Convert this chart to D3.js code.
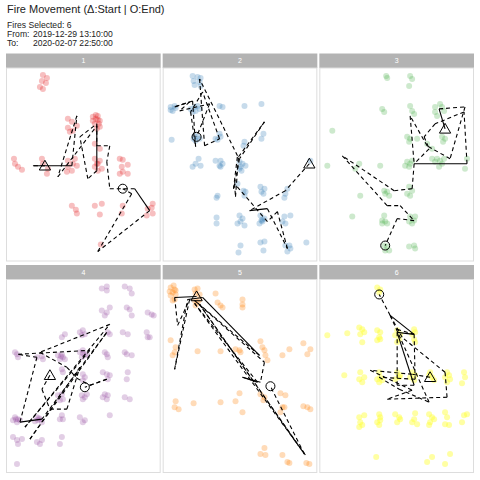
<!DOCTYPE html>
<html><head><meta charset="utf-8">
<script src="https://cdn.jsdelivr.net/npm/d3@7"></script>
<style>body{margin:0;background:#fff;} svg{display:block;font-family:"Liberation Sans",Arial,sans-serif;}</style>
</head><body>
<svg id="c" width="480" height="480"></svg>
<script>
const fireIds = ["1","2","3","4","5","6"];
const fireColors = ["#e41a1c","#377eb8","#4daf4a","#984ea3","#ff7f00","#ffff33"];
const titleText = "Fire Movement (\u0394:Start | O:End)";
const infoLabels = ["Fires Selected: 6","From: ","To:"];
const infoValues = ["","2019-12-29 13:10:00","2020-02-07 22:50:00"];
const xDomain = [0,155];
const yDomain = [0,194];

// detections per fire: [easting, southing] in panel units
const pts1 = [[37,7],[36,13],[41,10],[40,15],[34,19],[37,21],
 [62,51],[66,54],[62,60],[64,64],[67,63],[71,58],
 [87,49],[92,48],[94,53],[89,56],[91,61],[94,59],[87,53],[90,51],[93,56],[90,47],[92,52],
 [89,76],[94,81],[89,91],[94,93],[89,99],[92,103],[91,96],[96,101],[92,96],
 [62,93],[67,96],[62,99],[66,103],[71,98],[61,104],[69,91],
 [36,91],[37,96],[41,106],[42,101],
 [8,91],[9,96],[12,99],[16,102],
 [114,91],[117,92],[122,97],[116,99],[117,104],[122,106],[114,106],
 [66,138],[70,142],[71,146],[89,138],[96,136],[94,147],
 [117,138],[116,146],
 [147,136],[146,140],[142,141],[141,148],[147,146],
 [95,177]];
const pts2 = [[30,8],[35,9],[38,10],[31,13],[37,14],[32,17],[38,18],
 [8,39],[12,38],[10,43],[13,40],[8,42],
 [32,39],[35,38],[30,44],[33,43],[37,41],[28,41],
 [57,38],[60,39],[82,38],[99,36],[101,66],[99,71],[9,72],
 [32,68],[35,69],[33,73],[37,71],[31,71],
 [57,66],[58,69],[55,72],[53,71],[82,74],[81,78],
 [36,91],[33,96],[30,99],[38,98],
 [53,93],[58,93],[57,98],[60,96],[58,99],
 [77,94],[80,96],[78,99],[83,98],[79,103],[77,101],
 [75,116],[83,124],[82,128],[81,123],[55,128],[54,130],
 [98,119],[102,121],[99,124],[101,126],
 [125,121],[123,126],[122,130],[148,93],
 [54,150],[54,156],
 [77,148],[80,151],[75,156],[82,158],[78,154],
 [98,148],[102,151],[100,154],[97,156],[99,153],[100,152],
 [122,149],[120,154],[123,156],[128,148],
 [98,175],[102,174],[101,183],[78,178],[76,185],
 [123,178],[127,178],[128,181],[125,184],[144,175]];
const pts3 = [[67,8],[68,10],[91,8],[93,11],[90,18],
 [63,41],[65,44],[91,38],[93,43],[95,46],
 [116,39],[121,36],[123,39],[116,44],[125,43],[118,48],
 [13,63],[8,98],
 [88,69],[91,71],[90,74],[98,71],[123,69],[126,71],[124,74],[108,76],[113,81],
 [88,94],[91,96],[90,99],[93,93],[86,98],
 [118,91],[121,93],[116,94],[123,96],[120,99],[125,91],[113,91],
 [148,91],[146,101],[40,96],[36,101],[61,98],
 [65,123],[68,124],[70,128],[66,126],
 [90,119],[93,123],[91,128],[88,126],[41,128],[33,149],
 [65,148],[63,153],[66,154],[68,156],[63,156],
 [91,149],[95,153],[90,154],[96,149],[93,156],
 [65,178],[68,179],[70,183],[66,183],
 [90,179],[95,178],[96,181]];
const pts4 = [[96,9],[101,7],[101,11],[119,7],[124,9],[126,14],
 [96,31],[101,33],[104,28],[99,36],
 [121,28],[124,30],[126,36],[142,33],[146,35],[148,36],
 [59,55],[56,58],[74,53],[77,51],[76,56],[79,55],
 [102,53],[104,55],[117,53],[122,55],[141,53],[144,58],[142,58],
 [9,73],[12,78],[11,75],[31,78],[37,80],[36,77],
 [52,76],[57,78],[56,75],[59,80],[54,80],[55,77],
 [74,73],[77,71],[79,76],[76,78],[81,75],[77,74],
 [101,75],[102,78],[99,73],[119,73],[121,75],[126,76],
 [56,90],[57,93],[77,95],[79,98],[77,101],
 [97,93],[101,95],[104,96],[102,100],[122,93],[121,100],
 [52,116],[56,115],[57,120],[54,121],
 [76,116],[79,118],[77,120],[81,115],
 [99,115],[102,116],[101,120],[97,118],[119,118],[124,120],
 [9,138],[12,140],[11,143],[14,141],[7,141],[10,140],
 [31,138],[34,140],[36,143],[32,141],[29,142],[33,139],
 [56,136],[57,140],[54,140],[74,138],[79,141],[77,143],[104,136],
 [7,158],[11,161],[12,165],[16,160],
 [31,163],[34,165],[36,161],[54,165],[56,158],[11,185]];
const pts5 = [[8,8],[12,10],[10,13],[13,15],[8,16],[12,20],[13,11],[7,12],[10,21],[11,6],
 [32,10],[35,9],[33,14],[37,15],[32,21],[35,23],[33,26],[37,20],
 [53,14],[55,23],[58,26],[60,28],[80,20],[80,25],[80,28],
 [8,61],[12,73],[10,76],[13,68],
 [35,72],[58,72],[73,70],[77,71],[78,73],
 [98,62],[100,68],[102,71],[103,76],[105,81],
 [120,76],[127,70],[141,64],[145,75],[148,70],
 [13,122],[12,128],[16,130],[31,124],[58,123],[73,122],[77,114],[80,133],
 [98,115],[101,121],[102,118],
 [118,114],[123,116],[120,128],[122,128],[118,133],
 [141,127],[145,128],[148,130],
 [102,169],[98,175],[103,176],[120,176],[125,183],[127,184],[144,184],[147,185]];
const pts6 = [[58,8],[61,10],[60,13],
 [8,56],[28,54],[40,48],[43,50],[41,55],[45,53],[43,63],
 [58,51],[61,53],[60,58],[58,61],[61,60],
 [78,51],[76,56],[80,60],[78,63],[81,55],
 [95,50],[96,53],[93,55],[95,60],[96,63],
 [25,96],[41,93],[45,98],[40,100],[43,103],
 [60,93],[61,98],[58,100],[63,101],[60,103],
 [78,93],[80,98],[76,100],[81,96],
 [93,93],[96,96],[95,101],[91,98],
 [111,93],[113,98],[110,96],[115,101],
 [128,93],[130,96],[126,98],[131,100],[128,103],
 [145,93],[146,98],[143,104],
 [40,138],[45,136],[41,143],[43,146],[40,148],
 [60,135],[61,138],[58,143],[60,146],[61,141],
 [76,135],[80,138],[78,143],[81,140],
 [96,134],[95,140],[93,143],[98,145],
 [110,135],[113,138],[111,143],[115,140],[110,146],
 [126,133],[128,138],[126,145],[130,146],
 [145,136],[148,135],[143,143],
 [57,178],[113,178],[108,183],[126,185],[131,175]];

// movement track per fire: [easting, southing, consecutive(1)/jump(0)]
const path1 = [[39,98,0],[27,98,0],[66,98,1],[71,48,0],[52,109,0],[91,58,0],[91,103,1],[82,111,0],
 [74,69,0],[91,56,0],[91,78,0],[104,78,0],[101,94,0],[104,121,0],[129,121,0],[144,143,1],
 [92,184,0],[126,126,0],[117,121,0]];
const path2 = [[147,96,0],[123,123,0],[87,143,0],[105,141,1],[125,181,0],[115,144,0],[105,154,0],
 [72,116,0],[73,129,0],[76,89,0],[102,54,0],[77,91,0],[71,121,0],[75,88,0],[37,11,0],[42,78,0],
 [57,71,0],[40,24,0],[28,44,0],[33,79,0],[30,33,0],[12,39,0],[27,34,0],[17,43,0],[47,36,0],[34,69,0]];
const path3 = [[126,61,0],[120,41,1],[146,39,0],[131,91,0],[108,78,0],[91,48,0],[95,96,0],[148,96,1],
 [145,44,0],[116,56,0],[105,69,0],[110,81,0],[95,96,0],[93,121,0],[75,123,0],[23,88,0],[68,138,0],
 [81,138,0],[95,153,0],[78,151,0],[66,178,0]];
const path4 = [[44,96,0],[36,110,0],[44,130,0],[61,130,0],[74,88,0],[24,160,0],[101,53,0],[36,140,0],
 [14,143,1],[31,78,0],[12,75,0],[84,71,0],[19,148,0],[104,45,0],[34,73,0],[61,88,0],[71,99,0],
 [84,106,0],[101,100,0],[79,108,0]];
const path5 = [[34,17,0],[12,18,1],[15,46,0],[27,20,0],[12,90,0],[25,20,0],[40,18,1],[97,76,1],
 [32,21,0],[102,83,0],[98,103,0],[80,98,1],[95,103,1],[32,24,0],[143,176,0],[37,25,0],[142,175,0],[108,107,0]];
const path6 = [[111,98,0],[93,95,0],[51,91,0],[93,111,0],[68,120,0],[128,118,0],[126,93,0],[83,58,0],
 [71,36,0],[95,55,1],[78,53,1],[95,106,1],[78,106,0],[78,50,0],[95,55,0],[96,100,0],[60,98,0],
 [80,110,0],[110,123,0],[71,36,0],[60,15,0]];

const allPts = [pts1,pts2,pts3,pts4,pts5,pts6];
const allPaths = [path1,path2,path3,path4,path5,path6];

const svg = d3.select("#c");
svg.append("text").attr("x",7).attr("y",13).attr("font-size",11).attr("fill","#222").text(titleText);
const infoY = [28,37,46];
infoLabels.forEach((l,i)=>{
  const t = svg.append("text").attr("x",7).attr("y",infoY[i]).attr("font-size",8.6).attr("fill","#222");
  t.append("tspan").text(l);
  if (infoValues[i]) t.append("tspan").attr("x",33).text(infoValues[i]);
});

const left=6, gap=2, pw=(474-left-2*gap)/3;
const rowTop=[53.5,265], headH=14.5, plotH=193.5;

fireIds.forEach((id,k)=>{
  const col=k%3, row=Math.floor(k/3);
  const x0 = left + col*(pw+gap), y0 = rowTop[row];
  const g = svg.append("g").attr("transform",`translate(${x0},${y0})`);
  g.append("rect").attr("width",pw).attr("height",headH).attr("fill","#b3b3b3");
  g.append("text").attr("x",pw/2).attr("y",headH/2+2.5).attr("text-anchor","middle")
    .attr("font-size",7).attr("fill","#fff").text(id);
  const p = g.append("g").attr("transform",`translate(0,${headH})`);
  p.append("rect").attr("x",0.5).attr("y",0).attr("width",pw-1).attr("height",plotH-0.5)
    .attr("fill","#fff").attr("stroke","#dddddd").attr("stroke-width",1);
  const xs = d3.scaleLinear().domain(xDomain).range([0,pw]);
  const ys = d3.scaleLinear().domain(yDomain).range([0,plotH]);
  p.selectAll("circle.pt").data(allPts[k]).join("circle").attr("class","pt")
    .attr("cx",d=>xs(d[0])).attr("cy",d=>ys(d[1])).attr("r",3)
    .attr("fill",fireColors[k]).attr("fill-opacity",k===5?0.45:0.28);
  const segs = d3.pairs(allPaths[k]);
  p.selectAll("line.seg").data(segs).join("line").attr("class","seg")
    .attr("x1",d=>xs(d[0][0])).attr("y1",d=>ys(d[0][1]))
    .attr("x2",d=>xs(d[1][0])).attr("y2",d=>ys(d[1][1]))
    .attr("stroke","#000").attr("stroke-width",1.1)
    .attr("stroke-dasharray",d=>d[1][2]?null:"4,3");
  const s = allPaths[k][0], e = allPaths[k][allPaths[k].length-1];
  p.append("path").attr("d",d3.symbol(d3.symbolTriangle,55)())
    .attr("transform",`translate(${xs(s[0])},${ys(s[1])+1})`)
    .attr("fill","none").attr("stroke","#000").attr("stroke-width",1);
  p.append("circle").attr("cx",xs(e[0])).attr("cy",ys(e[1])).attr("r",4.5)
    .attr("fill","none").attr("stroke","#000").attr("stroke-width",1);
});
</script>
</body></html>
